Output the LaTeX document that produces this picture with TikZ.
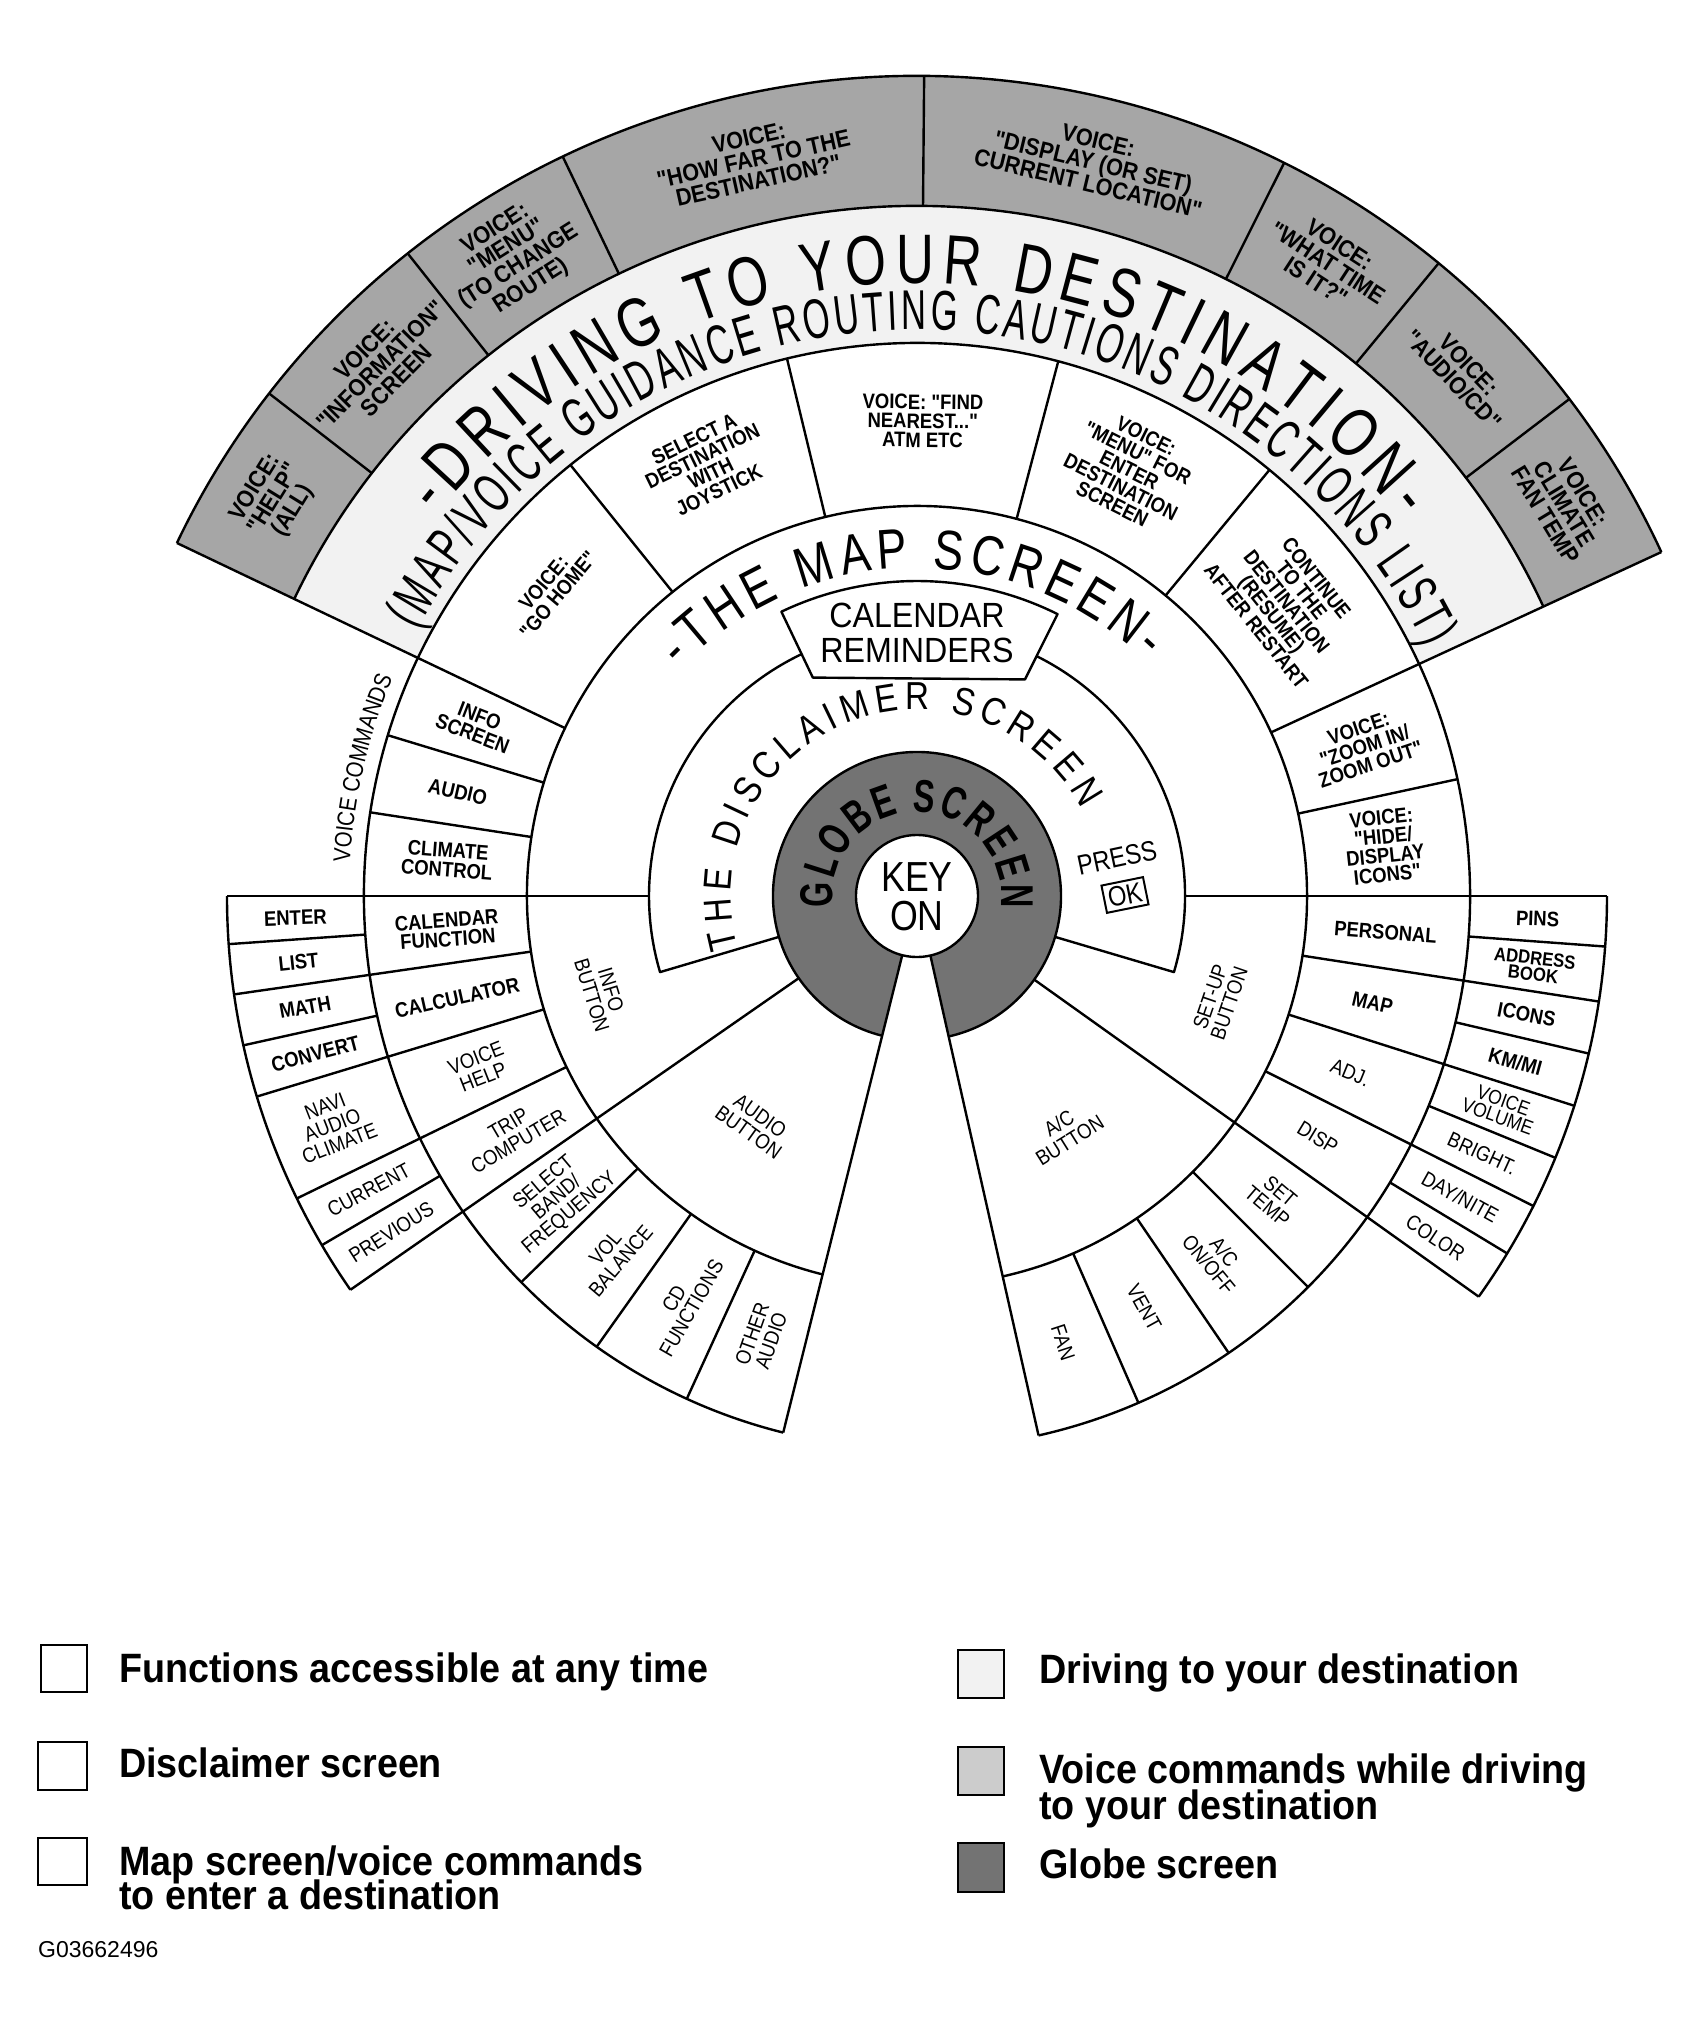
\documentclass[tikz,border=0pt]{standalone}
\usepackage{fontspec}
\setmainfont{Liberation Sans}
\newfontfamily\fDrive[FakeStretch=0.75]{Liberation Sans}
\newfontfamily\fSub[FakeStretch=0.62]{Liberation Sans}
\newfontfamily\fMap[FakeStretch=0.8]{Liberation Sans}
\newfontfamily\fThin[FakeStretch=0.85]{Liberation Sans}
\newfontfamily\fGlobe[FakeStretch=0.7]{Liberation Sans}
\newfontfamily\fLbl[FakeStretch=0.88]{Liberation Sans}
\newfontfamily\fVc[FakeStretch=0.9]{Liberation Sans}
\newfontfamily\fLeg[FakeStretch=0.92]{Liberation Sans}
\usetikzlibrary{decorations.text}
\definecolor{stip}{gray}{0.65}
\definecolor{drv}{gray}{0.95}
\definecolor{glb}{gray}{0.45}
\definecolor{vlg}{gray}{0.80}
\begin{document}
\begin{tikzpicture}[x=1pt,y=1pt,
  ln/.style={line width=2.4pt, line join=round},
  lb/.style={font=\fLbl\bfseries\fontsize{21}{19}\selectfont, align=center, inner sep=0pt},
  lr/.style={font=\fLbl\fontsize{21}{20}\selectfont, align=center, inner sep=0pt},
  vs/.style={font=\fVc\bfseries\fontsize{24}{22}\selectfont, align=center, inner sep=0pt},
  leg/.style={font=\fLeg\bfseries\fontsize{41}{41}\selectfont, anchor=base west, inner sep=0pt},
  legbox/.style={draw, line width=2pt}]
\useasboundingbox (-917,-1136) rectangle (780,896);
\fill[white] (-917,-1136) rectangle (780,896);

% ---- fills
\fill[stip] (24.8:690) arc[start angle=24.8,end angle=154.5,radius=690] -- (154.5:820) arc[start angle=154.5,end angle=24.8,radius=820] -- cycle;
\fill[drv] (24.8:553) arc[start angle=24.8,end angle=154.5,radius=553] -- (154.5:690) arc[start angle=154.5,end angle=24.8,radius=690] -- cycle;
\fill[glb] (256:144) arc[start angle=256,end angle=-77.3,radius=144] -- (-77.3:61) arc[start angle=-77.3,end angle=256,radius=61] -- cycle;

% ---- circles and arcs
\draw[ln, fill=white] (0,0) circle[radius=61];
\draw[ln] (-77.3:144) arc[start angle=-77.3,end angle=256,radius=144];
\draw[ln] (-16.5:144) -- (-16.5:268) arc[start angle=-16.5,end angle=196.5,radius=268] -- (196.5:144);
\draw[ln] (-77.3:390) arc[start angle=-77.3,end angle=256,radius=390];
\draw[ln] (-77.3:553) arc[start angle=-77.3,end angle=256,radius=553];
\draw[ln] (180:690) arc[start angle=180,end angle=214.8,radius=690];
\draw[ln] (324.5:690) arc[start angle=324.5,end angle=360,radius=690];
\draw[ln] (24.8:690) arc[start angle=24.8,end angle=154.5,radius=690];
\draw[ln] (24.8:820) arc[start angle=24.8,end angle=154.5,radius=820];

% ---- radial lines
\foreach \a/\ri/\ro in {154.5/390/820, 24.8/390/820, 180/268/690, 0/268/690,
  214.8/144/690, 324.5/144/690, 256/61/553, 282.7/61/553,
  142.2/690/820, 128.4/690/820, 115.6/690/820, 89.5/690/820, 63.4/690/820, 50.5/690/820, 37.3/690/820,
  128.8/390/553, 103.6/390/553, 75.2/390/553, 50.4/390/553,
  163.1/390/553, 171.3/390/553, 12.2/390/553,
  188.2/390/690, 196.9/390/690, 206/390/690, 351.2/390/690, 342.3/390/690, 333.3/390/690,
  224.3/390/553, 234.6/390/553, 245.4/390/553, 293.6/390/553, 304.3/390/553, 315/390/553,
  184/553/690, 192.5/553/690, 210.4/553/690, 355.8/553/690, 346.8/553/690, 337.7/553/690, 328.8/553/690}
  \draw[ln] (\a:\ri) -- (\a:\ro);

% ---- calendar reminders box
\draw[ln, fill=white] (115.5:242) -- (115.5:315) arc[start angle=115.5,end angle=63.5,radius=315] -- (63.5:242) -- cycle;
\node[font=\fLeg\fontsize{35}{35}\selectfont, inner sep=0pt] (calA) at (0,281) {CALENDAR};
\node[font=\fLeg\fontsize{35}{35}\selectfont, inner sep=0pt] (calB) at (0,246) {REMINDERS};

% ---- arc texts
\path[decorate, decoration={text along path, text align=fit to path,
  text={|\fDrive\fontsize{70}{70}\selectfont|-DRIVING TO YOUR DESTINATION-}}]
  (141.5:613) arc[start angle=141.5,end angle=38,radius=613];
\path[decorate, decoration={text along path, text align=fit to path,
  text={|\fSub\fontsize{56}{56}\selectfont|(MAP/VOICE GUIDANCE ROUTING CAUTIONS DIRECTIONS LIST)}}]
  (152:566) arc[start angle=152,end angle=26,radius=566];
\path[decorate, decoration={text along path, text align=fit to path,
  text={|\fMap\fontsize{56}{56}\selectfont|-THE MAP SCREEN-}}]
  (136:328) arc[start angle=136,end angle=46,radius=328];
\path[decorate, decoration={text along path, text align=fit to path,
  text={|\fThin\fontsize{39}{39}\selectfont|THE DISCLAIMER SCREEN}}]
  (196:186) arc[start angle=196,end angle=28,radius=186];
\path[decorate, decoration={text along path, text align=fit to path,
  text={|\fGlobe\bfseries\fontsize{46}{46}\selectfont|GLOBE SCREEN}}]
  (188:84) arc[start angle=188,end angle=-8,radius=84];
\path[decorate, decoration={text along path, text align=center,
  text={|\fThin\fontsize{24}{24}\selectfont|VOICE COMMANDS}}]
  (178:568) arc[start angle=178,end angle=156,radius=568];

% ---- centre texts
\node[font=\fThin\fontsize{42}{42}\selectfont, inner sep=0pt] (keyA) at (0,19) {KEY};
\node[font=\fThin\fontsize{42}{42}\selectfont, inner sep=0pt] (keyB) at (0,-20) {ON};
\node[font=\fThin\fontsize{28}{28}\selectfont, rotate=12, inner sep=0pt] (press) at (200,38) {PRESS};
\node[draw, line width=2pt, font=\fThin\fontsize{28}{28}\selectfont, rotate=11.5, inner sep=4pt] (okb) at (208,1) {OK};

% ---- voice commands ring (stippled)
\node[vs, rotate=58.3] (s1) at (148.3:755) {VOICE:\\"HELP"\\(ALL)};
\node[vs, rotate=45.3] (s2) at (135.3:755) {VOICE:\\"INFORMATION"\\SCREEN};
\node[vs, rotate=32.3] (s3) at (122.3:755) {VOICE:\\"MENU"\\(TO CHANGE\\ROUTE)};
\node[vs, rotate=12.5] (s4) at (102.5:755) {VOICE:\\"HOW FAR TO THE\\DESTINATION?"};
\node[vs, rotate=-13.5] (s5) at (76.5:755) {VOICE:\\"DISPLAY (OR SET)\\CURRENT LOCATION"};
\node[vs, rotate=-33] (s6) at (57:755) {VOICE:\\"WHAT TIME\\IS IT?"};
\node[vs, rotate=-46.1] (s7) at (43.9:755) {VOICE:\\"AUDIO/CD"};
\node[vs, rotate=-58.8] (s8) at (31.2:757) {VOICE:\\CLIMATE\\FAN TEMP};

% ---- map screen sub-sectors
\node[lb, rotate=50] (m1) at (140:478) {VOICE:\\"GO HOME"};
\node[lb, rotate=26] (m2) at (116:480) {SELECT A\\DESTINATION\\WITH\\JOYSTICK};
\node[lb, rotate=-0.7] (m3) at (89.3:475) {VOICE: "FIND\\NEAREST..."\\ATM ETC};
\node[lb, rotate=-26.5] (m4) at (63.5:476) {VOICE:\\"MENU" FOR\\ENTER\\DESTINATION\\SCREEN};
\node[lb, rotate=-51.5] (m5) at (38.5:472) {CONTINUE\\TO THE\\DESTINATION\\(RESUME)\\AFTER RESTART};
\node[lb, rotate=18.5] (v1) at (18.5:472) {VOICE:\\"ZOOM IN/\\ZOOM OUT"};
\node[lb, rotate=6.1] (v2) at (6.1:470) {VOICE:\\"HIDE/\\DISPLAY\\ICONS"};
\node[lb, rotate=-21.2] (c1) at (158.8:473) {INFO\\SCREEN};
\node[lb, rotate=-12.8] (c2) at (167.2:471) {AUDIO};
\node[lb, rotate=-4.4] (c3) at (175.6:471) {CLIMATE\\CONTROL};

% ---- info button
\node[lb, rotate=4.1] (i1) at (184.1:471) {CALENDAR\\FUNCTION};
\node[lb, rotate=12.5] (i2) at (192.5:471) {CALCULATOR};
\node[lr, rotate=21.4] (i3) at (201.4:470) {VOICE\\HELP};
\node[lr, rotate=30.4] (i4) at (210.4:468) {TRIP\\COMPUTER};
\node[lb, rotate=2] (o1) at (182:622) {ENTER};
\node[lb, rotate=6.1] (o2) at (186.1:622) {LIST};
\node[lb, rotate=10.3] (o3) at (190.3:622) {MATH};
\node[lb, rotate=14.7] (o4) at (194.7:622) {CONVERT};
\node[lr, rotate=21.4] (o5) at (201.4:628) {NAVI\\AUDIO\\CLIMATE};
\node[lr, rotate=28.2] (o6) at (208.2:622) {CURRENT};
\node[lr, rotate=32.6] (o7) at (212.6:624) {PREVIOUS};

% ---- audio button
\node[lr, rotate=40] (a1) at (220:470) {SELECT\\BAND/\\FREQUENCY};
\node[lr, rotate=49.7] (a2) at (229.7:470) {VOL\\BALANCE};
\node[lr, rotate=60.1] (a3) at (240.1:470) {CD\\FUNCTIONS};
\node[lr, rotate=70.6] (a4) at (250.6:468) {OTHER\\AUDIO};

% ---- a/c button
\node[lr, rotate=-71.9] (f1) at (288.1:470) {FAN};
\node[lr, rotate=-61.1] (f2) at (298.9:470) {VENT};
\node[lr, rotate=-50.4] (f3) at (309.6:470) {A/C\\ON/OFF};
\node[lr, rotate=-40.3] (f4) at (319.7:468) {SET\\TEMP};

% ---- set-up button
\node[lr, rotate=-31.1] (p1) at (328.9:468) {DISP};
\node[lr, rotate=-22.2] (p2) at (337.8:468) {ADJ.};
\node[lb, rotate=-13.2] (p3) at (346.8:468) {MAP};
\node[lb, rotate=-4.4] (p4) at (355.6:470) {PERSONAL};
\node[lb, rotate=-2.1] (q1) at (357.9:621) {PINS};
\node[lb, rotate=-6.5, font=\fLbl\bfseries\fontsize{19}{16}\selectfont] (q2) at (353.5:621) {ADDRESS\\BOOK};
\node[lb, rotate=-11] (q3) at (349:621) {ICONS};
\node[lb, rotate=-15.5] (q4) at (344.5:621) {KM/MI};
\node[lr, rotate=-20, font=\fLbl\fontsize{20}{17}\selectfont] (q5) at (340:621) {VOICE\\VOLUME};
\node[lr, rotate=-24.5] (q6) at (335.5:621) {BRIGHT.};
\node[lr, rotate=-29] (q7) at (331:621) {DAY/NITE};
\node[lr, rotate=-33.4] (q8) at (326.6:621) {COLOR};

% ---- buttons
\node[lr, rotate=-73] (b1) at (197:330) {INFO\\BUTTON};
\node[lr, rotate=-35.5] (b2) at (234.5:280) {AUDIO\\BUTTON};
\node[lr, rotate=32] (b3) at (302:278) {A/C\\BUTTON};
\node[lr, rotate=71] (b4) at (341:320) {SET-UP\\BUTTON};

% ---- legend
\draw[legbox, fill=white] (-876,-749) rectangle (-830,-796);
\draw[legbox, fill=white] (-879,-846) rectangle (-830,-894);
\draw[legbox, fill=white] (-879,-942) rectangle (-830,-989);
\draw[legbox, fill=drv] (41,-754) rectangle (87,-802);
\draw[legbox, fill=vlg] (41,-851) rectangle (87,-899);
\draw[legbox, fill=glb] (41,-947) rectangle (87,-996);
\node[leg] (t1) at (-798,-786) {Functions accessible at any time};
\node[leg] (t2) at (122,-787) {Driving to your destination};
\node[leg] (t3) at (-798,-881) {Disclaimer screen};
\node[leg] (t4a) at (122,-887) {Voice commands while driving};
\node[leg] (t4b) at (122,-923) {to your destination};
\node[leg] (t5a) at (-798,-979) {Map screen/voice commands};
\node[leg] (t5b) at (-798,-1013) {to enter a destination};
\node[leg] (t6) at (122,-982) {Globe screen};
\node[font=\fontsize{23}{23}\selectfont, anchor=base west, inner sep=0pt] (code) at (-879,-1061) {G03662496};
\end{tikzpicture}
\end{document}
